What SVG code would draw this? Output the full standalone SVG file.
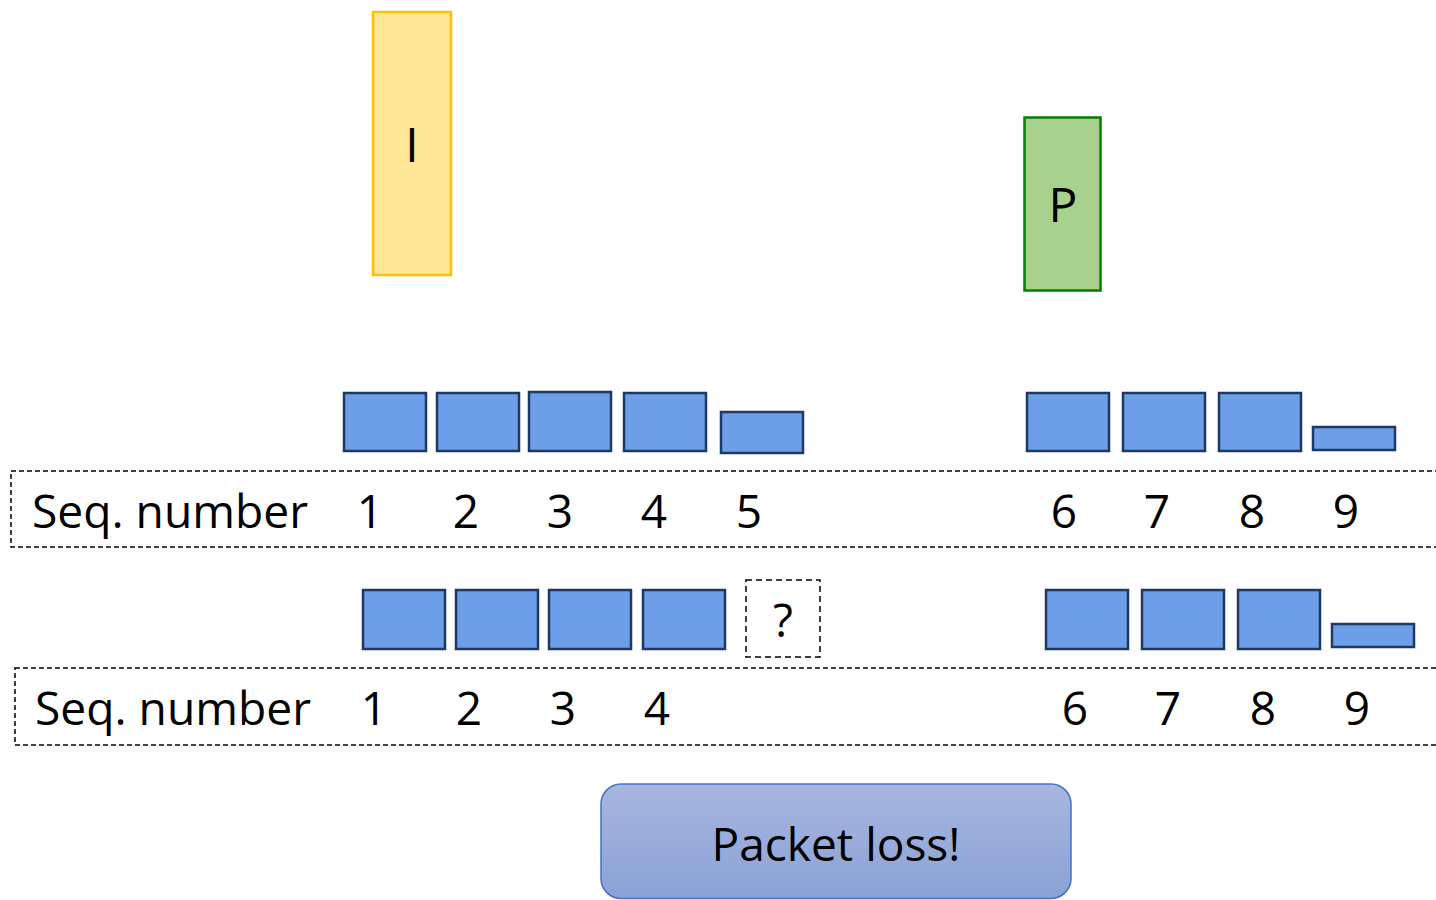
<svg xmlns="http://www.w3.org/2000/svg" width="1436" height="900" viewBox="0 0 1436 900">
<defs>
<style>
.t{font-family:"Open Sans","Noto Sans",sans-serif;font-size:46px;fill:#000}
.pk{fill:#6D9EE8;stroke:#1F3864;stroke-width:2.5}
.dash{fill:none;stroke:#000;stroke-width:1.5;stroke-dasharray:5 3}
</style>
<linearGradient id="g" x1="0" y1="0" x2="0" y2="1">
<stop offset="0" stop-color="#A7B6DF"/>
<stop offset="1" stop-color="#8AA2D6"/>
</linearGradient>
</defs>
<rect width="1436" height="900" fill="#fff"/>
<g id="frameI">
<rect x="373" y="12" width="78" height="263" fill="#FFE699" stroke="#FFC000" stroke-width="2.5"/>
<text class="t" x="412" y="162" text-anchor="middle" style="font-size:48px">I</text>
</g>
<g id="frameP">
<rect x="1024.5" y="117.5" width="76" height="173" fill="#A9D18E" stroke="#008000" stroke-width="2.5"/>
<text class="t" x="1063" y="222" text-anchor="middle" style="font-size:48px">P</text>
</g>
<g id="row1">
<rect class="pk" x="344" y="393" width="82" height="58"/>
<rect class="pk" x="437" y="393" width="82" height="58"/>
<rect class="pk" x="529" y="392" width="82" height="59"/>
<rect class="pk" x="624" y="393" width="82" height="58"/>
<rect class="pk" x="721" y="412" width="82" height="41"/>
<rect class="pk" x="1027" y="393" width="82" height="58"/>
<rect class="pk" x="1123" y="393" width="82" height="58"/>
<rect class="pk" x="1219" y="393" width="82" height="58"/>
<rect class="pk" x="1313" y="427" width="82" height="23"/>
<rect class="dash" x="11" y="471" width="1440" height="76"/>
<text class="t" x="32" y="528" textLength="276" lengthAdjust="spacingAndGlyphs">Seq. number</text>
<g class="t" text-anchor="middle">
<text x="370" y="528">1</text><text x="466" y="528">2</text><text x="560" y="528">3</text><text x="654" y="528">4</text><text x="749" y="528">5</text>
<text x="1064" y="528">6</text><text x="1157" y="528">7</text><text x="1252" y="528">8</text><text x="1346" y="528">9</text>
</g>
</g>
<g id="row2">
<rect class="pk" x="363" y="590" width="82" height="59"/>
<rect class="pk" x="456" y="590" width="82" height="59"/>
<rect class="pk" x="549" y="590" width="82" height="59"/>
<rect class="pk" x="643" y="590" width="82" height="59"/>
<rect x="746" y="580" width="74" height="77" fill="none" stroke="#000" stroke-width="1.5" stroke-dasharray="6 4"/>
<text class="t" x="783" y="637" text-anchor="middle">?</text>
<rect class="pk" x="1046" y="590" width="82" height="59"/>
<rect class="pk" x="1142" y="590" width="82" height="59"/>
<rect class="pk" x="1238" y="590" width="82" height="59"/>
<rect class="pk" x="1332" y="624" width="82" height="23"/>
<rect class="dash" x="15" y="668" width="1440" height="77"/>
<text class="t" x="35" y="725" textLength="276" lengthAdjust="spacingAndGlyphs">Seq. number</text>
<g class="t" text-anchor="middle">
<text x="374" y="725">1</text><text x="469" y="725">2</text><text x="563" y="725">3</text><text x="657" y="725">4</text>
<text x="1075" y="725">6</text><text x="1168" y="725">7</text><text x="1263" y="725">8</text><text x="1357" y="725">9</text>
</g>
</g>
<g id="loss">
<rect x="601" y="784" width="470" height="114.5" rx="20" fill="url(#g)" stroke="#4472C4" stroke-width="1.5"/>
<text class="t" x="836" y="861" text-anchor="middle">Packet loss!</text>
</g>
</svg>
